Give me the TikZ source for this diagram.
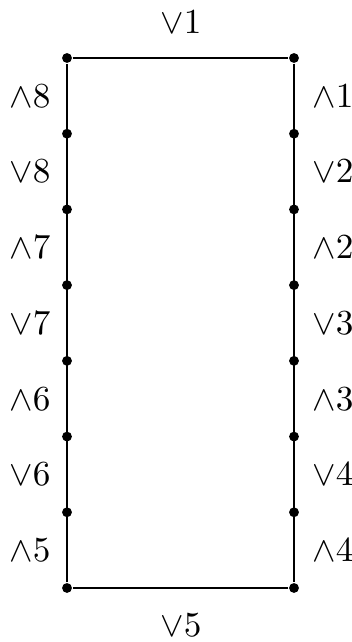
\documentclass[tikz,border=0pt]{standalone}
\begin{document}
\begin{tikzpicture}[x=0.01cm, y=-0.01cm]
\useasboundingbox (0,0) rectangle (352,642);
\tikzset{pt/.style={circle, fill, inner sep=0pt, minimum size=2.8pt}}

% corners and side points
\foreach \i in {0,...,7} {
  \node[pt] (l\i) at (67, 58+75.71*\i) {};
  \node[pt] (r\i) at (294, 58+75.71*\i) {};
}

\draw[line width=0.55pt] (l0) -- (r0) -- (r7) -- (l7) -- (l0);

\node (top) at (181,22) {$\vee 1$};
\node (bot) at (181,625) {$\vee 5$};

\node (a8) at (30,96) {$\wedge 8$};
\node (v8) at (30,171) {$\vee 8$};
\node (a7) at (30,247) {$\wedge 7$};
\node (v7) at (30,323) {$\vee 7$};
\node (a6) at (30,399) {$\wedge 6$};
\node (v6) at (30,474) {$\vee 6$};
\node (a5) at (30,550) {$\wedge 5$};

\node (a1) at (333,96) {$\wedge 1$};
\node (v2) at (333,171) {$\vee 2$};
\node (a2) at (333,247) {$\wedge 2$};
\node (v3) at (333,323) {$\vee 3$};
\node (a3) at (333,399) {$\wedge 3$};
\node (v4) at (333,474) {$\vee 4$};
\node (a4) at (333,550) {$\wedge 4$};
\end{tikzpicture}
\end{document}
